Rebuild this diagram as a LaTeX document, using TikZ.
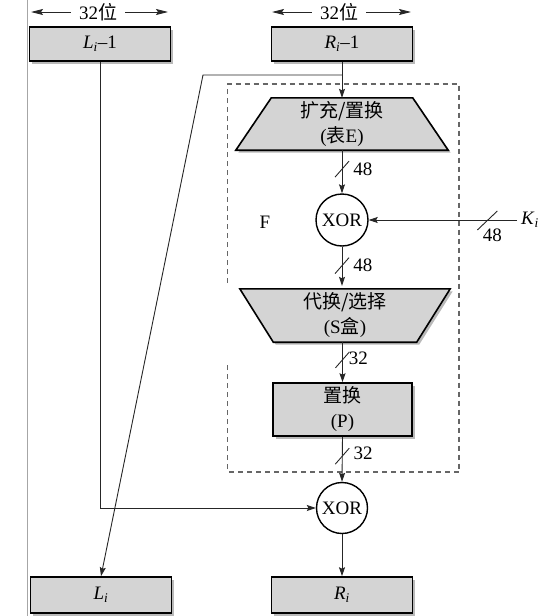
\documentclass[tikz,border=0pt]{standalone}
\usepackage{fontspec}
\setmainfont{Liberation Serif}
\newfontfamily\cjk{Noto Sans CJK SC}
\usetikzlibrary{arrows.meta,calc}
\newcommand\fsz{\fontsize{19}{25}\selectfont}
\begin{document}
\begin{tikzpicture}[x=1pt,y=-1pt,
  conn/.style={line width=0.9pt, draw=black!85},
  arr/.style={conn, -{Stealth[length=9pt,width=6pt,inset=1.5pt]}},
  warr/.style={conn, -{Stealth[length=12pt,width=6pt,inset=2pt]}},
  shadowed/.style={preaction={fill=gray!55, transform canvas={xshift=2.5pt,yshift=-2.5pt}}},
  boxst/.style={rectangle, draw, line width=1.6pt, fill=black!17, shadowed, inner sep=0pt, minimum width=141pt, minimum height=34pt, font=\fsz, align=center},
  trapframe/.style={rectangle, inner sep=0pt},
  trapfill/.style={draw, line width=1.6pt, fill=black!17, line join=miter, shadowed},
  xorst/.style={circle, draw, line width=1.4pt, fill=white, minimum size=52pt, inner sep=0pt, font=\fsz},
  txt/.style={font=\fsz, align=center, inner sep=0pt},
  lab/.style={font=\fsz, inner sep=1pt},
  slashst/.style={line width=0.9pt, draw=black!85},
  dashbox/.style={line width=1.1pt, draw=black!60, dash pattern=on 5pt off 4pt},
]
\useasboundingbox (0,0) rectangle (548,616);
\draw[gray!70,line width=0.8pt] (27,0) -- (27,616);

% dashed F frame (gap on the left side)
\draw[dashbox] (227.5,283) -- (227.5,84) -- (459,84) -- (459,472) -- (227.5,472) -- (227.5,363);

% width labels
\node[lab, inner xsep=8pt] (w1) at (98,12) {32{\cjk 位}};
\coordinate (w1l) at (31,12);
\coordinate (w1r) at (168,12);
\draw[warr] (w1) -- (w1l);
\draw[warr] (w1) -- (w1r);
\node[lab, inner xsep=8pt] (w2) at (339,12) {32{\cjk 位}};
\coordinate (w2l) at (272,12);
\coordinate (w2r) at (411,12);
\draw[warr] (w2) -- (w2l);
\draw[warr] (w2) -- (w2r);

% boxes
\node[boxst] (Lp) at (100,44) {\textit{L}\textsubscript{\textit{i}}\textendash1};
\node[boxst] (Rp) at (342,44) {\textit{R}\textsubscript{\textit{i}}\textendash1};
\node[boxst, minimum height=36pt] (Li) at (101,595) {\textit{L}\textsubscript{\textit{i}}};
\node[boxst, minimum height=36pt] (Ri) at (342,595) {\textit{R}\textsubscript{\textit{i}}};

% expansion/permutation trapezoid
\node[trapframe, minimum width=212pt, minimum height=52pt] (E) at (342,124) {};
\draw[trapfill] (E.south west) -- (E.south east) -- ([xshift=-35.5pt]E.north east) -- ([xshift=35.5pt]E.north west) -- cycle;
\node[txt] (Et) at (E.center) {{\cjk 扩充/置换}\\({\cjk 表}E)};

% substitution trapezoid
\node[trapframe, minimum width=210pt, minimum height=53pt] (S) at (345,315.5) {};
\draw[trapfill] (S.north west) -- (S.north east) -- ([xshift=-33.5pt]S.south east) -- ([xshift=33.5pt]S.south west) -- cycle;
\node[txt] (St) at (S.center) {{\cjk 代换/选择}\\(S{\cjk 盒})};

% permutation box
\node[boxst, minimum width=139pt, minimum height=53pt] (P) at (342.5,409.5) {{\cjk 置换}\\(P)};

% XORs
\node[xorst] (X1) at (342,220) {XOR};
\node[xorst, minimum size=51pt] (X2) at (342,508) {XOR};

\node[lab] (F) at (265,222) {F};
\node[lab, anchor=west, inner xsep=4pt] (Ki) at (517,220) {\textit{K}\textsubscript{\textit{i}}};

% connectors
\draw[arr] (Rp.south) -- (E.north);
\coordinate (br) at (342,75);
\coordinate (bc) at (203,75);
\draw[arr] (br) -- (bc) -- (Li.north);

\draw[arr] (E.south) -- node[lab, pos=0.44, anchor=west, xshift=10pt] (n1) {48} (X1.north);
\draw[slashst] ($(E.south)!0.44!(X1.north)$) +(-7,8) -- +(7,-8);

\draw[arr, shorten >=3pt] (X1.south) -- node[lab, pos=0.45, anchor=west, xshift=10pt] (n2) {48} (X1.south |- S.north);
\draw[slashst] ($(X1.south)!0.45!(X1.south |- S.north)$) +(-7,8) -- +(7,-8);

\draw[arr] (P.north |- S.south) -- node[lab, pos=0.44, anchor=west, xshift=5pt, yshift=2pt] (n3) {32} (P.north);
\draw[slashst] ($(P.north |- S.south)!0.44!(P.north)$) +(-7,8) -- +(7,-8);

\draw[arr] (P.south) -- node[lab, pos=0.43, anchor=west, xshift=10pt, yshift=3pt] (n4) {32} (X2.north);
\draw[slashst] ($(P.south)!0.43!(X2.north)$) +(-7,8) -- +(7,-8);

\draw[arr] (Ki.west) -- node[lab, pos=0.2, anchor=north, xshift=5pt, yshift=-7pt] (n5) {48} (X1.east);
\draw[slashst] ($(Ki.west)!0.2!(X1.east)$) +(-10,10) -- +(10,-9);

\draw[arr] (Lp.south) |- (X2.west);
\draw[arr] (X2.south) -- (Ri.north);
\end{tikzpicture}
\end{document}
